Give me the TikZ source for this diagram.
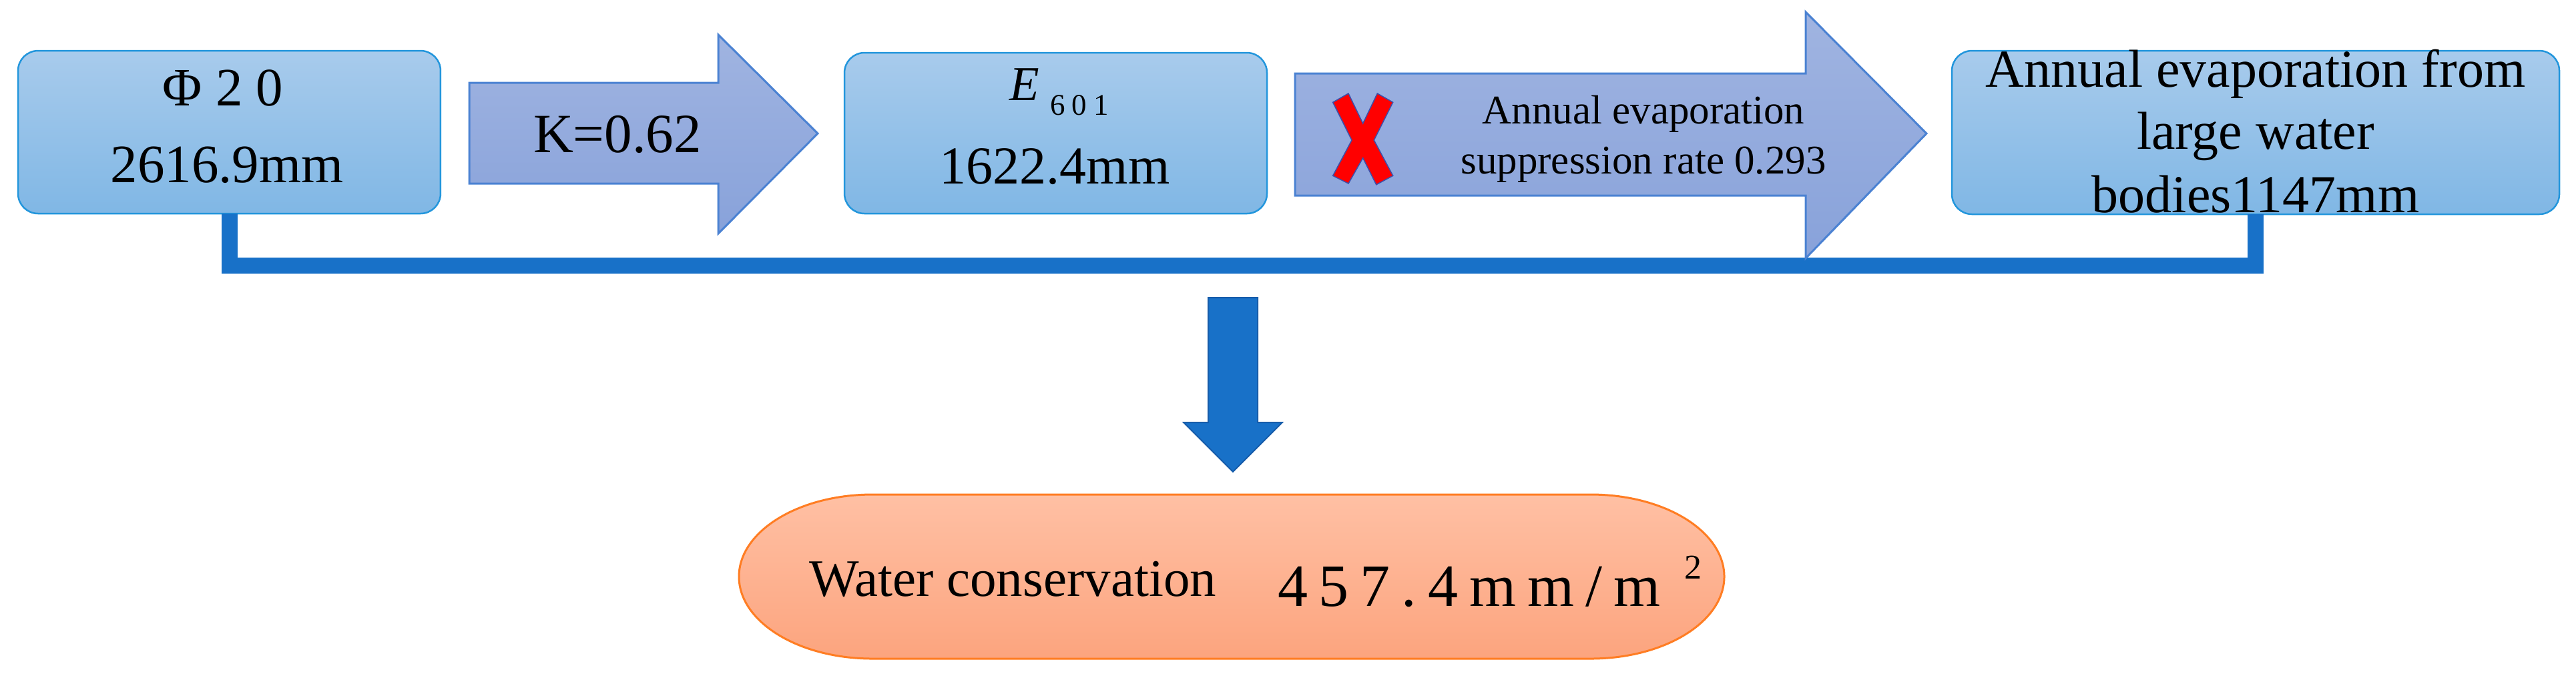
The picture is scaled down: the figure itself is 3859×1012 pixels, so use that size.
\documentclass[tikz,border=0pt]{standalone}
\usepackage{fontspec}
\setmainfont{Liberation Serif}
\definecolor{boxtop}{RGB}{168,203,236}
\definecolor{boxbot}{RGB}{128,183,229}
\definecolor{boxline}{RGB}{35,150,220}
\definecolor{arrtop}{RGB}{160,180,225}
\definecolor{arrbot}{RGB}{136,162,218}
\definecolor{arrline}{RGB}{75,130,210}
\definecolor{barblue}{RGB}{24,113,200}
\definecolor{downline}{RGB}{22,92,170}
\definecolor{ovtop}{RGB}{255,192,164}
\definecolor{ovbot}{RGB}{252,164,126}
\definecolor{ovline}{RGB}{255,125,35}
\definecolor{xred}{RGB}{255,0,0}
\definecolor{xline}{RGB}{60,80,170}
\newcommand\setfs[1]{\fontsize{#1}{#1}\selectfont}
\newcommand\gsp{\hspace{1.7pt}}
\begin{document}
\begin{tikzpicture}[x=0.1pt,y=-0.1pt,
  bluebox/.style={draw=boxline, line width=0.25pt, top color=boxtop, bottom color=boxbot,
    rounded corners=3pt, inner sep=0pt, outer sep=0pt, minimum width=#1},
  blockarrow/.style={draw=arrline, line width=0.3pt, top color=arrtop, bottom color=arrbot},
  lab/.style={inner sep=0pt, outer sep=0pt, anchor=base, text=black},
  conn/.style={draw=barblue, line width=2.4pt, line join=miter, line cap=butt}]
\useasboundingbox (0,0) rectangle (3859,1012);

% boxes
\node[bluebox=63.3pt, minimum height=24.4pt] (b1) at (343.5,198) {};
\node[bluebox=63.3pt, minimum height=24.1pt] (b2) at (1581.5,199.5) {};
\node[bluebox=91.0pt, minimum height=24.5pt] (b3) at (3379,198.5) {};

% connector bar
\draw[conn] (b1.south) -- ++(0,78) -| (b3.south);

% block arrows
\draw[blockarrow] (703,124) -- (1076,124) -- (1076,52) -- (1225,200) -- (1076,350) -- (1076,275) -- (703,275) -- cycle;
\draw[blockarrow] (1940,110) -- (2705,110) -- (2705,18) -- (2886,200) -- (2705,387) -- (2705,293) -- (1940,293) -- cycle;

% red cross
\draw[fill=xred, draw=xline, line width=0.15pt]
  (1996.7,153.3) -- (2020,140) -- (2041.7,185) -- (2063.3,140) -- (2086.7,153.3) -- (2058.3,210)
  -- (2086.7,263.3) -- (2061.7,276.7) -- (2041.7,236.7) -- (2020,275) -- (1996.7,263.3) -- (2025,210) -- cycle;

% down arrow
\draw[fill=barblue, draw=downline, line width=0.2pt]
  (1810,446) -- (1884,446) -- (1884,633) -- (1921,633) -- (1847,707) -- (1773,633) -- (1810,633) -- cycle;

% result oval
\draw[draw=ovline, line width=0.3pt, top color=ovtop, bottom color=ovbot]
  (1307,741) -- (2383,741) .. controls (2493.5,741) and (2583,796.1) .. (2583,864)
  .. controls (2583,931.9) and (2493.5,987) .. (2383,987) -- (1307,987)
  .. controls (1196.5,987) and (1107,931.9) .. (1107,864)
  .. controls (1107,796.1) and (1196.5,741) .. (1307,741) -- cycle;

% texts
\node[lab] (t1a) at (334,158) {\setfs{8.1}Φ 2 0};
\node[lab] (t1b) at (340,273) {\setfs{8.1}2616.9mm};
\node[lab] (tk) at (925,228) {\setfs{8.3}K=0.62};
\node[lab, anchor=base west] (t2e) at (1512,150) {\setfs{7.3}\itshape E};
\node[lab, anchor=base west] (t2s) at (1573,172) {\setfs{4.5}6\kern1pt 0\kern1pt 1};
\node[lab] (t2b) at (1580,275) {\setfs{8}1622.4mm};
\node[lab] (ta1) at (2462,185) {\setfs{6.1}Annual evaporation};
\node[lab] (ta2) at (2462,260) {\setfs{6.1}suppression rate 0.293};
\node[lab] (t3a) at (3379,130) {\setfs{8}Annual evaporation from};
\node[lab] (t3b) at (3379,223) {\setfs{8}large water};
\node[lab] (t3c) at (3379,318) {\setfs{8}bodies1147mm};
\node[lab, anchor=base west] (tw) at (1212,893) {\setfs{7.9}Water conservation};
\node[lab, anchor=base west] (tn) at (1914,908) {\setfs{9}4\gsp5\gsp7\gsp.\gsp4\gsp m\gsp m\gsp/\gsp m};
\node[lab, anchor=base west] (tsq) at (2523,867) {\setfs{5.2}2};
\end{tikzpicture}
\end{document}
